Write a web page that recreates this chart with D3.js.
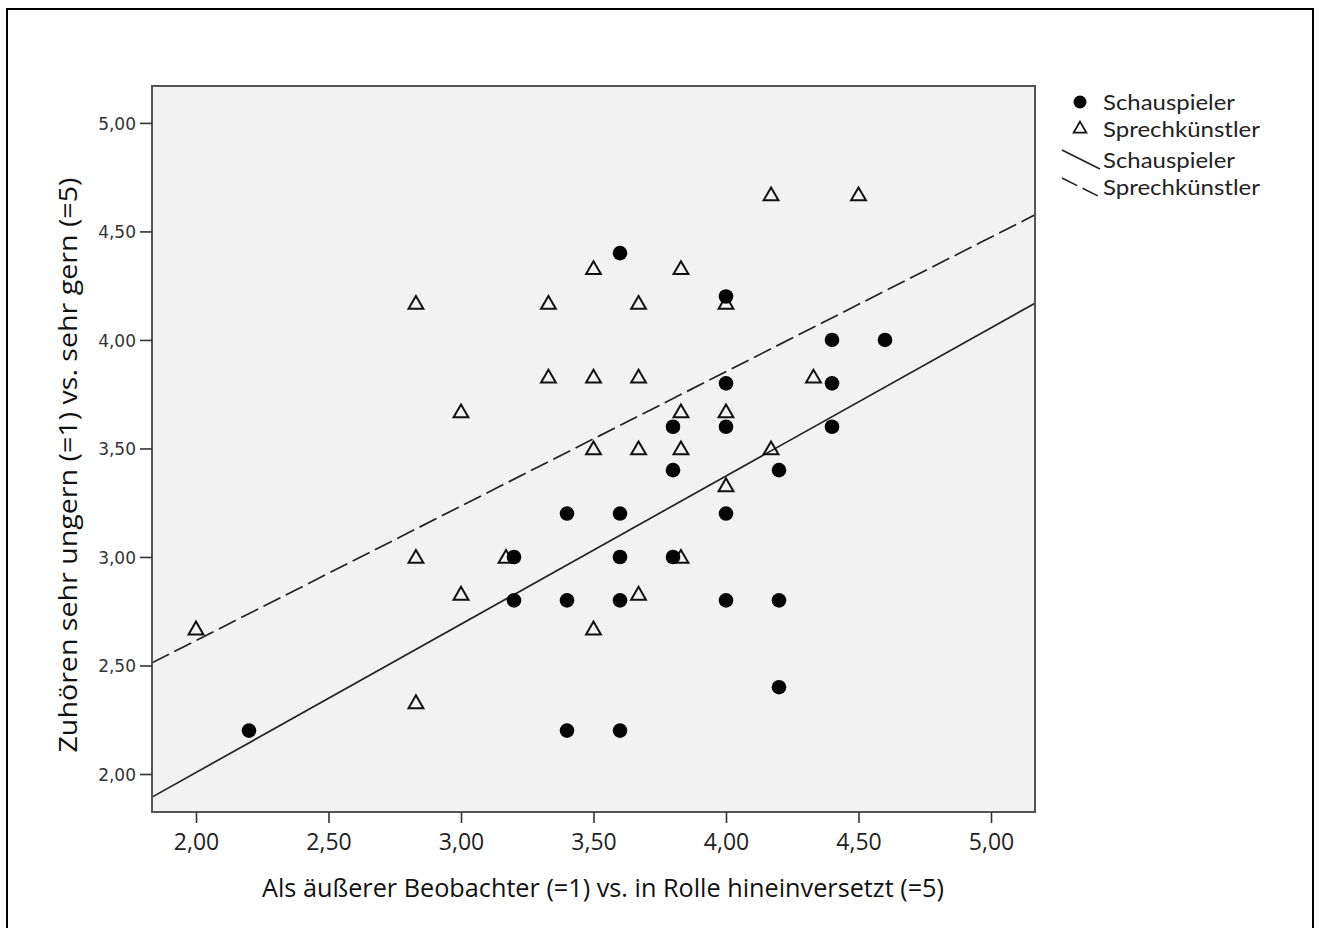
<!DOCTYPE html>
<html><head><meta charset="utf-8">
<script src="https://cdn.jsdelivr.net/npm/d3@7"></script>
<style>body{margin:0;background:#fff;}svg{display:block;}</style>
</head><body>
<svg id="c" width="1321" height="928"></svg>
<script>
// Data
const schauspielerX = [2.2,3.2,3.2,3.4,3.4,3.4,3.6,3.6,3.6,3.6,3.6,3.8,3.8,3.8,4.0,4.0,4.0,4.0,4.0,4.2,4.2,4.2,4.4,4.4,4.4,4.6];
const schauspielerY = [2.2,3.0,2.8,3.2,2.8,2.2,4.4,3.2,3.0,2.8,2.2,3.6,3.4,3.0,4.2,3.8,3.6,3.2,2.8,3.4,2.8,2.4,4.0,3.8,3.6,4.0];
const sprechX = [2.0,2.83,2.83,2.83,3.0,3.0,3.17,3.33,3.33,3.5,3.5,3.5,3.5,3.67,3.67,3.67,3.67,3.83,3.83,3.83,3.83,4.0,4.0,4.0,4.17,4.17,4.33,4.5];
const sprechY = [2.67,4.17,2.33,3.0,3.67,2.83,3.0,4.17,3.83,4.33,3.83,3.5,2.67,4.17,3.83,3.5,2.83,4.33,3.67,3.5,3.0,4.17,3.67,3.33,4.67,3.5,3.83,4.67];
const fitNames = ["Schauspieler","Sprechkünstler"];
const fitIntercept = [0.641, 1.376];
const fitSlope = [0.683, 0.6195];
const xTicks = [2.0,2.5,3.0,3.5,4.0,4.5,5.0];
const yTicks = [2.0,2.5,3.0,3.5,4.0,4.5,5.0];
const xTitle = "Als äußerer Beobachter (=1) vs. in Rolle hineinversetzt (=5)";
const yTitle = "Zuhören sehr ungern (=1) vs. sehr gern (=5)";
const legendLabels = ["Schauspieler","Sprechkünstler","Schauspieler","Sprechkünstler"];

const svg = d3.select("#c");
const L=152, R=1035, T=86, B=812;
const xDom=[1.834,5.166], yDom=[1.825,5.17];
const x = d3.scaleLinear().domain(xDom).range([L,R]);
const y = d3.scaleLinear().domain(yDom).range([B,T]);
const fmt = d => d.toFixed(2).replace(".", ",");
const font = "'Open Sans', 'Noto Sans', sans-serif";

// outer frame
svg.append("rect").attr("x",7).attr("y",9).attr("width",1306).attr("height",930)
  .attr("fill","none").attr("stroke","#000").attr("stroke-width",2);

// plot background
svg.append("rect").attr("x",L).attr("y",T).attr("width",R-L).attr("height",B-T)
  .attr("fill","#f2f2f2");

svg.append("clipPath").attr("id","pc").append("rect")
  .attr("x",L).attr("y",T).attr("width",R-L).attr("height",B-T);

// fit lines
const g = svg.append("g").attr("clip-path","url(#pc)");
fitNames.forEach((n,i)=>{
  const line = d3.line().x(d=>x(d)).y(d=>y(fitIntercept[i]+fitSlope[i]*d));
  g.append("path").datum(xDom).attr("d",line).attr("fill","none")
    .attr("stroke","#222").attr("stroke-width",1.7)
    .attr("stroke-dasharray", i===1 ? "19,6" : null);
});

// triangles
const tri = d3.symbol().type(d3.symbolTriangle).size(95);
const sp = sprechX.map((v,i)=>({x:v,y:sprechY[i]}));
g.selectAll("path.tri").data(sp).join("path").attr("class","tri")
  .attr("d",tri).attr("transform",d=>`translate(${x(d.x)},${y(d.y)+1.5})`)
  .attr("fill","none").attr("stroke","#111").attr("stroke-width",2);

// circles
const sc = schauspielerX.map((v,i)=>({x:v,y:schauspielerY[i]}));
g.selectAll("circle").data(sc).join("circle")
  .attr("cx",d=>x(d.x)).attr("cy",d=>y(d.y)).attr("r",7.3).attr("fill","#050505");

// plot border
svg.append("rect").attr("x",L).attr("y",T).attr("width",R-L).attr("height",B-T)
  .attr("fill","none").attr("stroke","#555").attr("stroke-width",2);

// axes
const xAxis = svg.append("g").attr("transform",`translate(0,${B})`)
  .call(d3.axisBottom(x).tickValues(xTicks).tickFormat(fmt).tickSize(11).tickPadding(11));
const yAxis = svg.append("g").attr("transform",`translate(${L},0)`)
  .call(d3.axisLeft(y).tickValues(yTicks).tickFormat(fmt).tickSize(12).tickPadding(4));
[xAxis,yAxis].forEach(a=>{
  a.select(".domain").remove();
  a.selectAll(".tick line").attr("stroke","#333").attr("stroke-width",1.6);
});
xAxis.selectAll(".tick text").attr("fill","#222").style("font-family",font).style("font-size","23px");
yAxis.selectAll(".tick text").attr("fill","#333").style("font-family","'DejaVu Sans', sans-serif").style("font-size","17px").attr("dy","0.36em");

// titles
svg.append("text").attr("x",603).attr("y",897).attr("text-anchor","middle")
  .style("font-family",font).style("font-size","25px").attr("fill","#111")
  .attr("textLength",682).attr("lengthAdjust","spacingAndGlyphs").text(xTitle);
svg.append("text").attr("transform","translate(77,465) rotate(-90)").attr("text-anchor","middle")
  .style("font-family",font).style("font-size","26px").attr("fill","#111")
  .attr("textLength",575).attr("lengthAdjust","spacingAndGlyphs").text(yTitle);

// legend
const lg = svg.append("g");
const ly = [102,129,160,187];
const lw = [132,157,132,157];
lg.append("circle").attr("cx",1080).attr("cy",ly[0]).attr("r",6.5).attr("fill","#050505");
lg.append("path").attr("d",d3.symbol().type(d3.symbolTriangle).size(70))
  .attr("transform",`translate(1080,${ly[1]})`).attr("fill","none").attr("stroke","#111").attr("stroke-width",1.8);
lg.append("line").attr("x1",1062).attr("y1",150).attr("x2",1100).attr("y2",169)
  .attr("stroke","#222").attr("stroke-width",1.6);
lg.append("line").attr("x1",1062).attr("y1",178).attr("x2",1100).attr("y2",197)
  .attr("stroke","#222").attr("stroke-width",1.6).attr("stroke-dasharray","17,6");
legendLabels.forEach((t,i)=>{
  lg.append("text").attr("x",1103).attr("y",ly[i]).attr("dy","0.36em")
    .style("font-family","Lato, 'DejaVu Sans', sans-serif").style("font-size","21px").attr("fill","#222")
    .attr("textLength",lw[i]).attr("lengthAdjust","spacingAndGlyphs").text(t);
});
</script>
</body></html>
